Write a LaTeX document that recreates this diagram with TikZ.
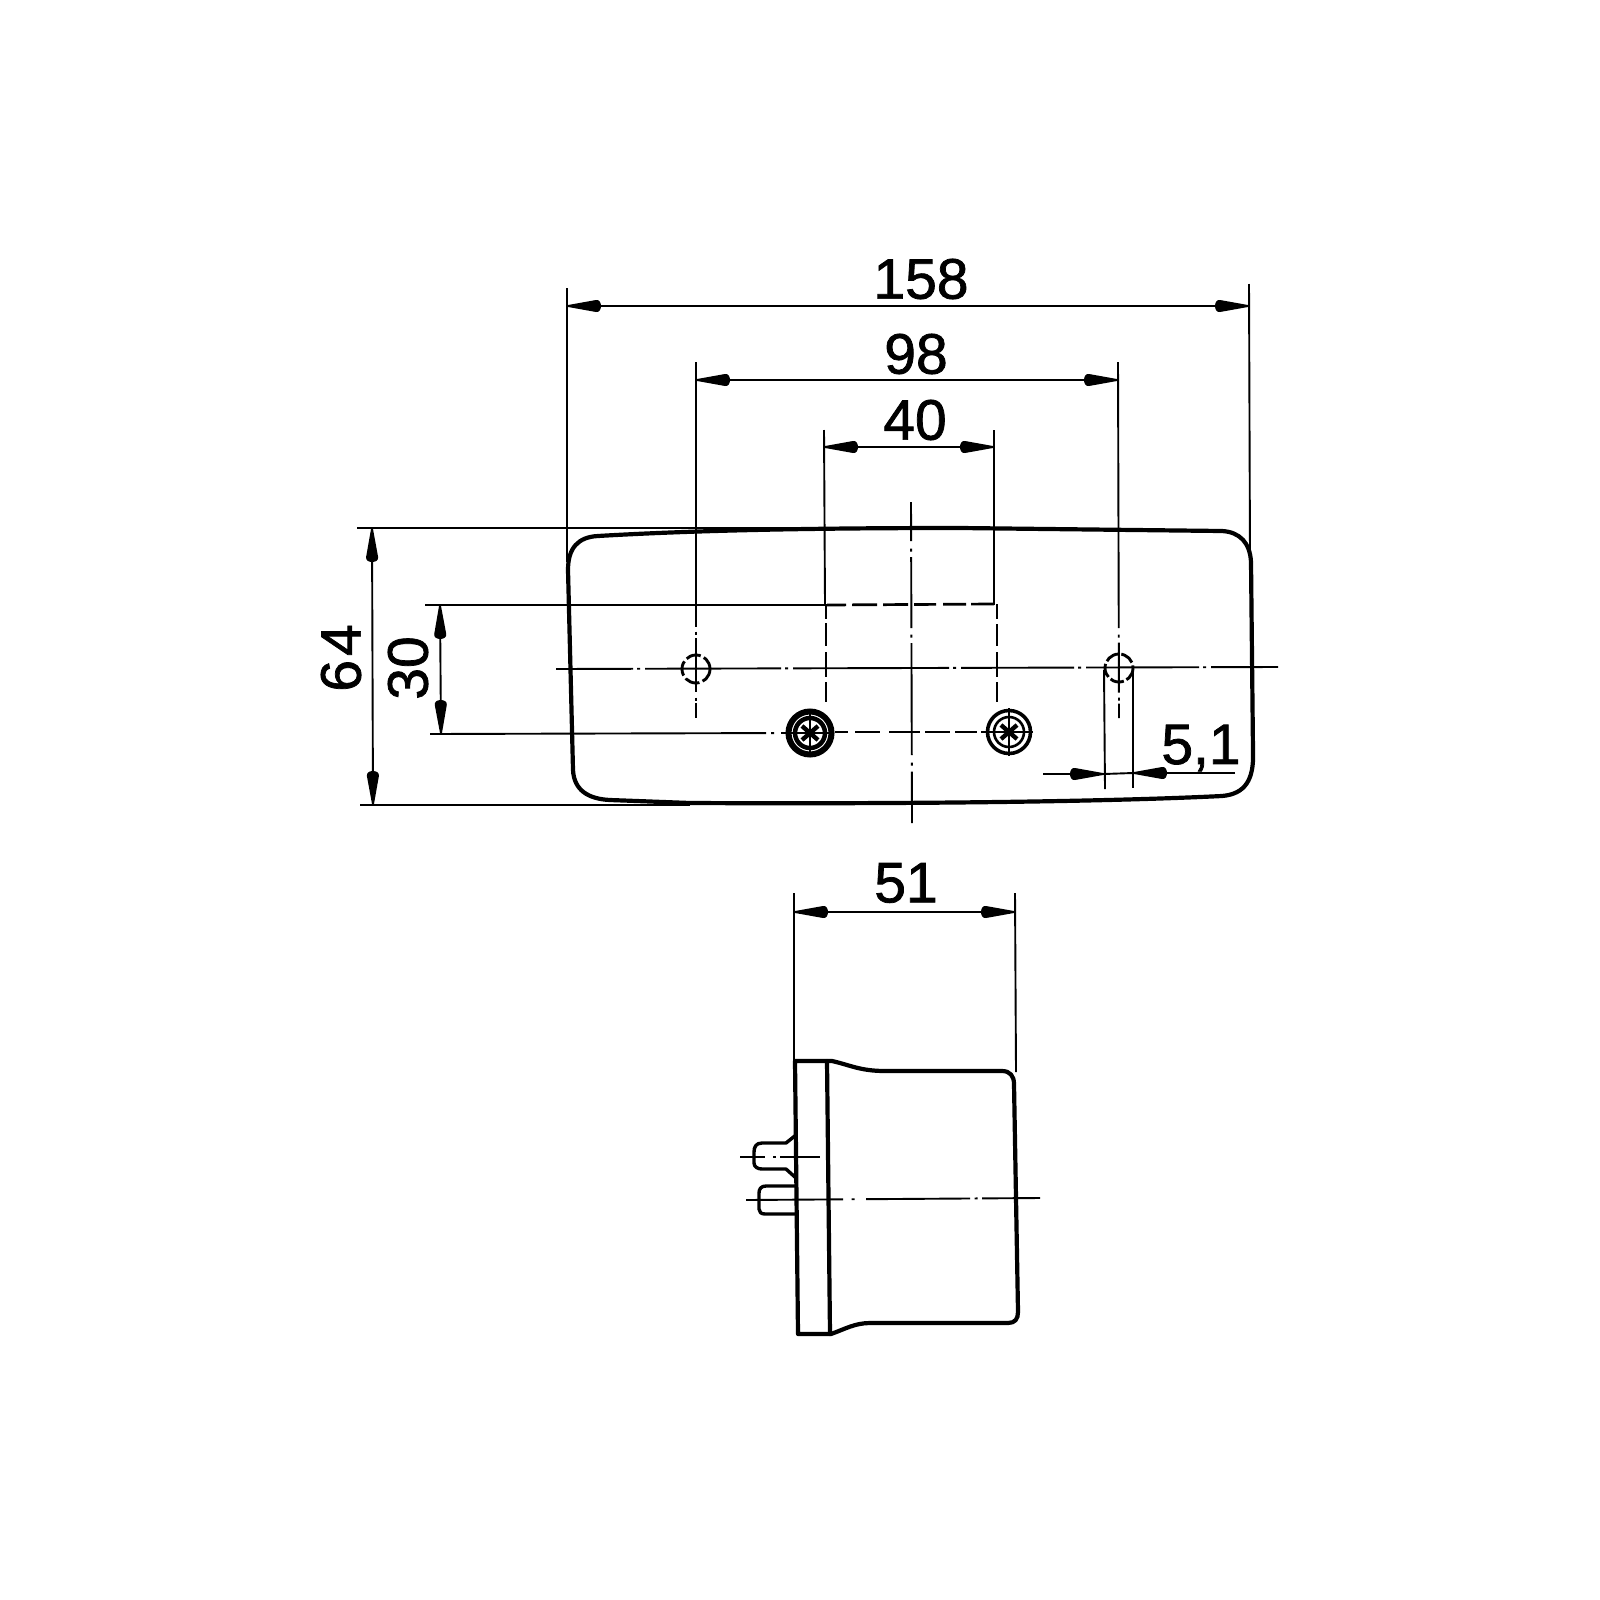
\documentclass[tikz,border=0pt]{standalone}
\usepackage{fontspec}
\setmainfont[FakeBold=1.3]{Liberation Sans}
\usetikzlibrary{arrows.meta}
\pgfdeclarearrow{
  name=DimDrop,
  setup code={\pgfarrowssettipend{0pt}\pgfarrowssetbackend{-34pt}\pgfarrowssetlineend{-30pt}\pgfarrowssetvisualbackend{-30pt}},
  drawing code={
    \pgfsetlinewidth{0pt}
    \pgfpathmoveto{\pgfqpoint{0pt}{0.8pt}}
    \pgfpathlineto{\pgfqpoint{-29pt}{6pt}}
    \pgfpathcurveto{\pgfqpoint{-32pt}{6.4pt}}{\pgfqpoint{-34pt}{4pt}}{\pgfqpoint{-34pt}{0pt}}
    \pgfpathcurveto{\pgfqpoint{-34pt}{-4pt}}{\pgfqpoint{-32pt}{-6.4pt}}{\pgfqpoint{-29pt}{-6pt}}
    \pgfpathlineto{\pgfqpoint{0pt}{-0.8pt}}
    \pgfpathclose
    \pgfusepathqfill
  },
  defaults={}
}
\tikzset{
  px/.style={x=1pt,y=-1pt},
  outline/.style={line width=4.2pt,line join=round,line cap=round,black},
  thinl/.style={line width=1.9pt,black},
  dimen/.style={line width=1.9pt,black,DimDrop-DimDrop},
  arrowtip/.style={-DimDrop,line width=1.9pt,black},
  hidden/.style={line width=2.7pt,black},
  dimtext/.style={inner sep=0pt,font=\fontsize{57}{57}\selectfont}
}
\begin{document}
\begin{tikzpicture}[px]
\useasboundingbox (0,0) rectangle (1600,1600);
% named points
\coordinate (w1) at (567,306); \coordinate (w2) at (1249,306);
\coordinate (h1) at (696,380); \coordinate (h2) at (1118,380);
\coordinate (s1) at (824,447); \coordinate (s2) at (994,447);
\coordinate (t1) at (372,528); \coordinate (t2) at (373,805);
\coordinate (u1) at (440,605); \coordinate (u2) at (441,734);
\coordinate (d1) at (794,912); \coordinate (d2) at (1015,912);
% extension lines
\draw[thinl] (567,288) -- (567,562);
\draw[thinl] (1249,284) -- (1250,560);
\draw[thinl,dash pattern=on 265pt off 4.5pt on 3pt off 3.5pt on 54pt off 5.5pt on 3pt off 2.5pt on 15pt off 99pt] (696,362) -- (696,718);
\draw[thinl,dash pattern=on 266pt off 6.5pt on 3pt off 5pt on 50pt off 5pt on 3pt off 3pt on 15pt off 99pt] (1118,362) -- (1119,718);
\draw[thinl] (824,430) -- (825,605);
\draw[thinl] (994,430) -- (994,605);
\draw[thinl] (357,528) -- (790,528);
\draw[thinl] (360,805) -- (690,805);
\draw[thinl] (425,605) -- (827,605);
\draw[thinl,dash pattern=on 336pt off 5pt on 3pt off 7pt on 30pt off 99pt] (430,734) -- (790,733);
\draw[thinl] (794,893) -- (794,1061);
\draw[thinl] (1015,893) -- (1016,1072);
% dimension lines
\draw[dimen] (w1) -- (w2);
\draw[dimen] (h1) -- (h2);
\draw[dimen] (s1) -- (s2);
\draw[dimen] (t1) -- (t2);
\draw[dimen] (u1) -- (u2);
\draw[dimen] (d1) -- (d2);
% 5,1
\coordinate (a1) at (1043,774); \coordinate (a2) at (1104,774);
\coordinate (a3) at (1235,773); \coordinate (a4) at (1133,773);
\draw[thinl] (a1) -- (a2);
\draw[thinl] (a2) -- (a4);
\draw[thinl] (a3) -- (a4);
\draw[arrowtip] (1069,774) -- (a2);
\draw[arrowtip] (1168,773) -- (a4);
% texts
\node[dimtext] (t158) at (921,279) {158};
\node[dimtext] (t98) at (916,354) {98};
\node[dimtext] (t40) at (915,420) {40};
\node[dimtext] (t51) at (906,883) {51};
\node[dimtext,rotate=90] (t64) at (341,658) {6\hspace{4pt}4};
\node[dimtext,rotate=90] (t30) at (408,668) {30};
\node[dimtext] (t51b) at (1201,748) {5,1};
% body outline
\draw[outline] (568,570) .. controls (568,548) and (578,537) .. (598,536)
  .. controls (700,530) and (820,528) .. (960,528)
  -- (1222,531) .. controls (1240,532) and (1250,543) .. (1251,562)
  -- (1253,752) .. controls (1254,780) and (1245,794) .. (1222,796)
  .. controls (1100,802) and (900,804) .. (690,803)
  -- (610,800) .. controls (588,799) and (574,790) .. (573,770) -- cycle;
% centre lines
\draw[thinl,dash pattern=on 77pt off 4pt on 3pt off 5pt on 136pt off 4pt on 3pt off 5pt on 156pt off 4pt on 3pt off 5pt on 113pt off 4pt on 3pt off 5pt on 113pt off 4pt on 3pt off 5pt on 80pt off 99pt] (556,669) -- (1278,667);
\draw[thinl,dash pattern=on 39pt off 7.5pt on 3pt off 5.5pt on 71pt off 6.5pt on 3pt off 5.5pt on 112pt off 7.5pt on 3pt off 6pt on 60pt off 99pt] (911,502) -- (912,823);
% holes
\draw[line width=2.9pt,black,dash pattern=on 15pt off 3.5pt] (696,669) circle (14);
\draw[line width=2.9pt,black,dash pattern=on 14pt off 3pt] (1119,668) circle (14);
\draw[thinl] (1104,670) -- (1105,789);
\draw[thinl] (1133,670) -- (1133,788);
% hidden lines
\draw[hidden,dash pattern=on 19pt off 6pt on 25pt off 6pt on 25pt off 6pt on 22pt off 7pt on 23pt off 5pt on 23pt off 99pt] (827,605) -- (994,604);
\draw[hidden,dash pattern=on 15pt off 4pt on 23pt off 6pt on 25pt off 5pt on 20pt off 99pt] (826,604) -- (826,702);
\draw[hidden,dash pattern=on 15pt off 5pt on 22pt off 6pt on 25pt off 5pt on 20pt off 99pt] (997,604) -- (997,702);
\draw[hidden,dash pattern=on 13pt off 7pt on 25pt off 9pt on 31pt off 5pt on 25pt off 5pt on 22pt off 4pt on 8pt off 99pt] (835,732) -- (988,732);
% screws
\foreach \cx/\cy/\wa/\wb in {810/733/6/4.5,1009/732/3.6/2.6}{
  \draw[line width=\wa pt,black] (\cx,\cy) circle (21.5);
  \draw[line width=\wb pt,black] (\cx,\cy) circle (15);
  \draw[line width=1.6pt,black] (\cx-24,\cy) -- (\cx+24,\cy);
  \draw[line width=1.6pt,black] (\cx,\cy-24) -- (\cx,\cy+24);
  \draw[line width=4.4pt,black] (\cx-8,\cy-7) -- (\cx+8,\cy+7);
  \draw[line width=4.4pt,black] (\cx-8,\cy+7) -- (\cx+8,\cy-7);
}
% side view
\draw[outline] (795,1061) -- (832,1061) .. controls (850,1065) and (860,1071) .. (885,1071)
  -- (1002,1071) .. controls (1010,1071) and (1014,1076) .. (1014,1084)
  -- (1018,1312) .. controls (1018,1319) and (1015,1323) .. (1008,1323)
  -- (870,1323) .. controls (855,1323) and (845,1329) .. (831,1334)
  -- (798,1334) -- cycle;
\draw[outline] (827,1061) -- (830,1334);
\draw[outline,line width=3.4pt] (796,1135) -- (786,1143) -- (762,1143)
  .. controls (756,1143) and (754,1147) .. (754,1152) -- (754,1163)
  .. controls (754,1167) and (758,1169) .. (762,1169) -- (786,1169) -- (796,1178);
\draw[outline,line width=3.4pt] (796,1186) -- (766,1186)
  .. controls (761,1186) and (759,1189) .. (759,1193) -- (759,1209)
  .. controls (759,1212) and (761,1214) .. (765,1214) -- (796,1214);
\draw[thinl,dash pattern=on 25pt off 8pt on 3pt off 4pt on 40pt off 99pt] (740,1157) -- (820,1157);
\draw[thinl,dash pattern=on 97pt off 8.5pt on 3pt off 11.5pt on 104pt off 4.5pt on 3pt off 4.5pt on 65pt off 99pt] (746,1200) -- (1040,1198);
\end{tikzpicture}
\end{document}
